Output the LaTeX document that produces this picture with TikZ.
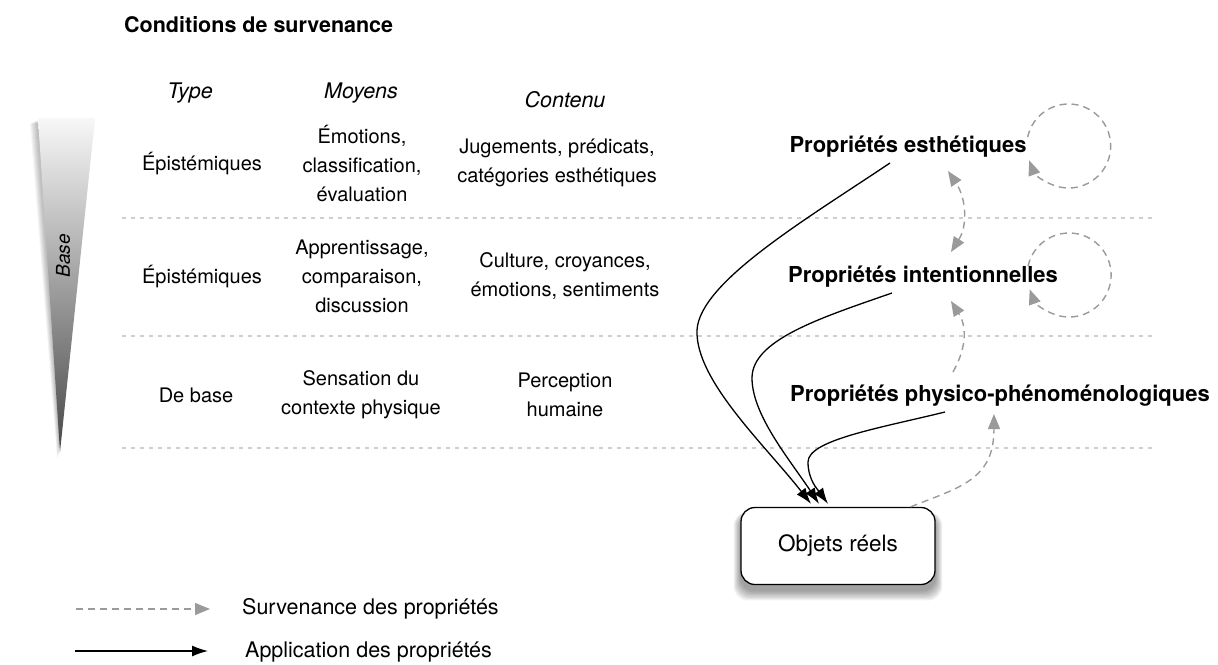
\documentclass[tikz,border=0pt]{standalone}
\usepackage{fontspec}
\setmainfont{TeX Gyre Heros}
\usetikzlibrary{arrows.meta,calc}
\definecolor{survgray}{HTML}{9A9A9A}
\definecolor{sepgray}{HTML}{CFCFCF}
\begin{document}
\begin{tikzpicture}[x=1pt,y=-1pt,
  body/.style={font=\fontsize{20}{29}\selectfont, align=center, inner sep=0pt},
  hdr/.style={font=\fontsize{21.5}{26}\selectfont\itshape, inner sep=0pt},
  prop/.style={font=\fontsize{22}{26}\selectfont\bfseries, inner sep=0pt},
  legendtext/.style={font=\fontsize{21.5}{25}\selectfont, inner sep=0pt, anchor=west},
  sepline/.style={draw=sepgray, line width=1.3pt, dash pattern=on 4pt off 5pt},
  surv/.style={draw=survgray, line width=1.4pt, dash pattern=on 7pt off 5pt, -{Triangle[length=15pt,width=12pt,fill=survgray]}},
  survboth/.style={surv, {Triangle[length=15pt,width=12pt,fill=survgray]}-{Triangle[length=15pt,width=12pt,fill=survgray]}},
  appl/.style={draw=black, line width=1.3pt, -{Latex[length=16pt,width=11pt]}},
  objbox/.style={draw=black, line width=1.3pt, rounded corners=14pt, fill=white, minimum width=194pt, minimum height=77pt, font=\fontsize{22.5}{26}\selectfont, inner sep=0pt},
]
\useasboundingbox (0,0) rectangle (1218,664);

% title
\node[font=\fontsize{21.5}{26}\selectfont\bfseries, anchor=west, inner sep=0pt] (title) at (124,25) {Conditions de survenance};

% gradient wedge with soft shadow
\foreach \i in {1,...,7}{
  \fill[black, opacity=0.04] (37-\i,120+\i*0.5) -- (95-0.3*\i,120+\i*0.5) -- (60-0.4*\i,452+\i) -- cycle;
}
\shade[top color=black!3, bottom color=black!72] (38,118) -- (95,118) -- (60,452) -- cycle;
\node[rotate=90, font=\fontsize{19}{22}\selectfont\itshape, inner sep=0pt] (base) at (63,256) {Base};

% headers
\node[hdr] (htype) at (190,93) {Type};
\node[hdr] (hmoy) at (361,93) {Moyens};
\node[hdr] (hcont) at (565,100) {Contenu};

% row 1
\node[body] (r1a) at (202,164) {Épistémiques};
\node[body] (r1b) at (362,163) {Émotions,\\classification,\\évaluation};
\node[body] (r1c) at (557,163) {Jugements, prédicats,\\catégories esthétiques};
% row 2
\node[body] (r2a) at (202,277) {Épistémiques};
\node[body] (r2b) at (362,276) {Apprentissage,\\comparaison,\\discussion};
\node[body] (r2c) at (565,276) {Culture, croyances,\\émotions, sentiments};
% row 3
\node[body] (r3a) at (196,395) {De base};
\node[body] (r3b) at (361,395) {Sensation du\\contexte physique};
\node[body] (r3c) at (565,395) {Perception\\humaine};

% separators
\draw[sepline] (122,218) -- (1152,218);
\draw[sepline] (122,336) -- (1152,336);
\draw[sepline] (122,448) -- (1152,448);

% property labels
\node[prop] (pe) at (908,147) {Propriétés esthétiques};
\node[prop] (pi) at (923,277) {Propriétés intentionnelles};
\node[prop] (pp) at (1000,396) {Propriétés physico-phénoménologiques};

% object box with soft shadow
\foreach \i in {1,...,8}{
  \fill[black, opacity=0.055, rounded corners=14pt] (741-\i*0.9,514-\i*0.3) rectangle (935+\i*0.9,590+\i*1.3);
}
\node[objbox] (obj) at (838,546) {Objets réels};

% application arrows
\draw[appl] ($(pe.center)+(-18,16)$) .. controls (805,220) and (700,282) .. (697,330)
  .. controls (695,380) and (765,445) .. ($(obj.north)+(-27,-3)$);
\draw[appl] ($(pi.center)+(-31,16)$) .. controls (820,318) and (752,340) .. (752,378)
  .. controls (752,415) and (790,460) .. ($(obj.north)+(-19,-3)$);
\draw[appl] ($(pp.center)+(-55,16)$) .. controls (880,428) and (808,440) .. (808,462)
  .. controls (808,480) and (818,490) .. ($(obj.north)+(-10,-3)$);

% survenance arrows
\draw[survboth] ($(pi.center)+(28,-25)$) .. controls (968,225) and (966,198) .. ($(pe.center)+(40,24)$);
\draw[surv] ($(pp.center)+(-47,-24)$) .. controls (968,345) and (966,325) .. ($(pi.center)+(28,24)$);
\draw[surv] ($(obj.north east)+(-25,0)$) .. controls (960,487) and (994,480) .. ($(pp.center)+(-6,18)$);
\draw[surv] ($(pe.east)+(42,-1)+(-168:42)$) arc[start angle=-168, end angle=160, radius=42];
\draw[surv] ($(pi.east)+(11,-2)+(-168:42)$) arc[start angle=-168, end angle=160, radius=42];

% legend
\node[legendtext] (lt1) at (242,609) {Survenance des propriétés};
\node[legendtext] (lt2) at (245,652) {Application des propriétés};
\coordinate (ls1) at (76,609);
\coordinate (ls2) at (75,651);
\draw[surv] (ls1) -- ($(lt1.west)+(-32,0)$);
\draw[appl] (ls2) -- ($(lt2.west)+(-37,-1)$);
\end{tikzpicture}
\end{document}
